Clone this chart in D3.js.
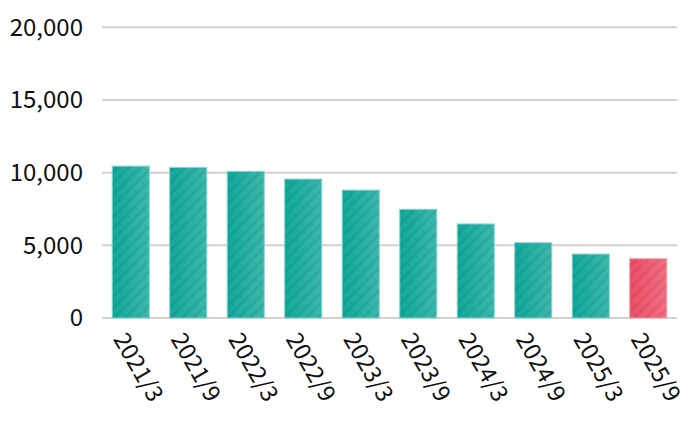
<!DOCTYPE html>
<html>
<head>
<meta charset="utf-8">
<script src="https://cdn.jsdelivr.net/npm/d3@7"></script>
<style>
  html, body { margin: 0; padding: 0; background: #fff; }
  svg text { font-family: "Noto Sans CJK JP", "Noto Sans", sans-serif; fill: #111; }
</style>
</head>
<body>
<script>
// data
let periods = ["2021/3", "2021/9", "2022/3", "2022/9", "2023/3", "2023/9", "2024/3", "2024/9", "2025/3", "2025/9"];
let values = [10450, 10360, 10090, 9560, 8800, 7480, 6470, 5180, 4400, 4080];
let yTicks = [0, 5000, 10000, 15000, 20000];

let width = 690;
let height = 422;
let svg = d3.select("body").append("svg")
                           .attr("width", width)
                           .attr("height", height);

let x = d3.scaleBand()
          .domain(periods)
          .range([102, 677])
          .paddingInner(0.355)
          .paddingOuter(0.1775);

let y = d3.scaleLinear()
          .domain([0, 20000])
          .range([318, 27.3]);

// gradient + faint diagonal stripes for the bars
let defs = svg.append("defs");
function barFill(id, c0, c1) {
  let g = defs.append("linearGradient").attr("id", id + "-grad")
              .attr("x1", "0%").attr("x2", "100%").attr("y1", "0%").attr("y2", "0%");
  g.append("stop").attr("offset", "0%").attr("stop-color", c0);
  g.append("stop").attr("offset", "100%").attr("stop-color", c1);
}
barFill("teal", "#10a89a", "#3bb8ad");
barFill("pink", "#ec4d66", "#f26f82");

defs.append("pattern")
    .attr("id", "stripes")
    .attr("patternUnits", "userSpaceOnUse")
    .attr("width", 8)
    .attr("height", 8)
    .attr("patternTransform", "rotate(45)")
  .append("rect")
    .attr("width", 3)
    .attr("height", 8)
    .attr("fill", "#000")
    .attr("opacity", 0.06);

// gridlines
svg.append("g").selectAll("line").data(yTicks).enter().append("line")
   .attr("x1", 102)
   .attr("x2", 677)
   .attr("y1", function(d) { return y(d); })
   .attr("y2", function(d) { return y(d); })
   .attr("stroke", "#d2d2d2")
   .attr("stroke-width", 2);

// y labels
svg.append("g").selectAll("text").data(yTicks).enter().append("text")
   .attr("x", 83)
   .attr("y", function(d) { return y(d); })
   .attr("dy", "0.35em")
   .attr("text-anchor", "end")
   .attr("font-size", 24)
   .text(function(d) { return d3.format(",")(d); });

// bars
let last = periods[periods.length - 1];
let bars = svg.append("g").selectAll("g").data(periods).enter().append("g");
bars.append("rect")
    .attr("x", function(d) { return x(d); })
    .attr("y", function(d, i) { return y(values[i]); })
    .attr("width", x.bandwidth())
    .attr("height", function(d, i) { return y(0) - y(values[i]); })
    .attr("fill", function(d) { return d === last ? "url(#pink-grad)" : "url(#teal-grad)"; })
    .attr("stroke", function(d) { return d === last ? "#f5a3af" : "#8ad6cf"; })
    .attr("stroke-width", 1);
bars.append("rect")
    .attr("x", function(d) { return x(d) + 0.5; })
    .attr("y", function(d, i) { return y(values[i]) + 0.5; })
    .attr("width", x.bandwidth() - 1)
    .attr("height", function(d, i) { return y(0) - y(values[i]) - 1; })
    .attr("fill", "url(#stripes)");

// x labels, rotated
svg.append("g").selectAll("text").data(periods).enter().append("text")
   .attr("transform", function(d) {
     return "translate(" + (x(d) + x.bandwidth() / 2 - 18) + ",339) rotate(60)";
   })
   .attr("font-size", 23.5)
   .text(function(d) { return d; });
</script>
</body>
</html>
